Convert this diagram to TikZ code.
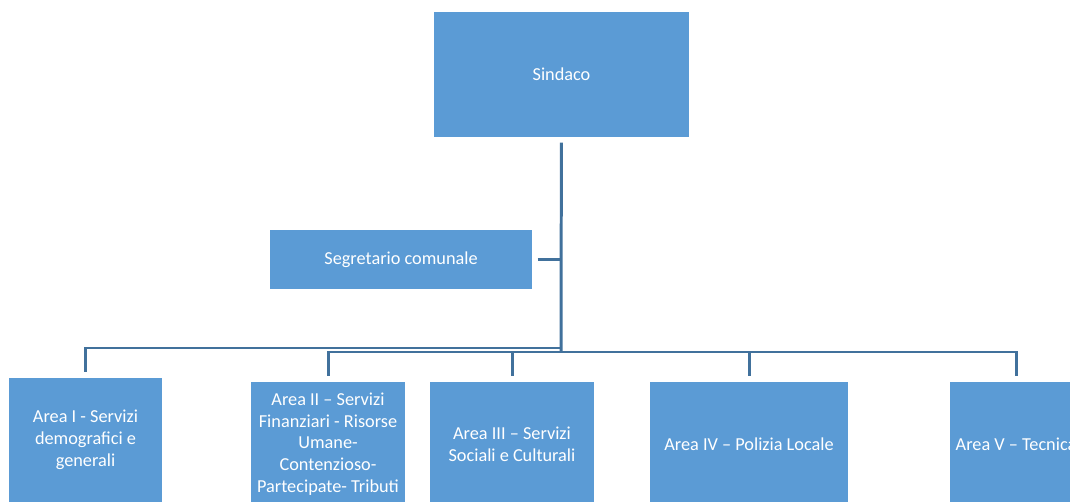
\documentclass[tikz,border=0pt]{standalone}
\usepackage{fontspec}
\setmainfont{Carlito}
\definecolor{boxblue}{HTML}{5B9BD5}
\definecolor{lineblue}{HTML}{41719C}
\tikzset{
	orgbox/.style={rectangle,fill=boxblue,draw=white,line width=0.6pt,text=white,align=center,inner sep=2pt,font=\fontsize{10.4}{12.4}\selectfont},
	conn/.style={draw=lineblue,line width=1.7pt}
}
\begin{document}
\begin{tikzpicture}[line cap=butt,line join=miter,x=0.02cm,y=-0.02cm]
			\useasboundingbox (0,0) rectangle (1070,502);
			\clip (0,0) rectangle (1070,502);
			\node[orgbox,minimum width=5.14cm,minimum height=2.54cm] (sindaco) at (561.5,74.5) {Sindaco};
			\node[orgbox,minimum width=5.28cm,minimum height=1.22cm] (segretario) at (401,259.5) {Segretario comunale};
			\node[orgbox,minimum width=3.10cm,minimum height=2.52cm] (area1) at (85.5,440) {Area I - Servizi\\demografici e\\generali};
			\node[orgbox,minimum width=3.12cm,minimum height=2.52cm] (area2) at (328,444) {Area II -- Servizi\\Finanziari - Risorse\\Umane-\\Contenzioso-\\Partecipate- Tributi};
			\node[orgbox,minimum width=3.32cm,minimum height=2.52cm] (area3) at (512,444) {Area III -- Servizi\\Sociali e Culturali};
			\node[orgbox,minimum width=4.00cm,minimum height=2.52cm] (area4) at (749,444) {Area IV -- Polizia Locale};
			\node[orgbox,minimum width=2.68cm,minimum height=2.52cm] (area5) at (1016,444) {Area V -- Tecnica};
			\coordinate (j1) at (561,348);
			\coordinate (j2) at (561,352);
			\draw[conn,shorten <=0.08cm] (sindaco) -- (j2);
			\draw[conn,shorten <=0.08cm] (segretario) -- (segretario -| j2);
			\draw[conn,shorten >=0.08cm] (j1) -| (area1);
			\draw[conn,shorten >=0.08cm] (j2) -| (area2);
			\draw[conn,shorten >=0.08cm] (j2) -| (area3);
			\draw[conn,shorten >=0.08cm] (j2) -| (area4);
			\draw[conn,shorten >=0.08cm] (j2) -| (area5);
\end{tikzpicture}
\end{document}
